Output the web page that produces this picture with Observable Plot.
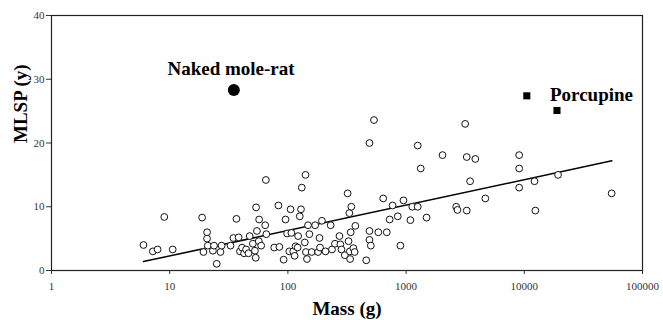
<!DOCTYPE html>
<html>
<head>
<meta charset="utf-8">
<script src="https://cdn.jsdelivr.net/npm/d3@7"></script>
<script src="https://cdn.jsdelivr.net/npm/@observablehq/plot@0.6"></script>
<style>
  html, body { margin: 0; padding: 0; background: #fff; }
</style>
</head>
<body>
<div id="chart"></div>
<script>
// Rodent species: body mass (g) and maximum lifespan (years)
const mass = [6.0, 7.2, 7.9, 9.0, 10.6, 18.8, 19.3, 20.7, 20.7, 21.0, 23.2, 23.7, 25.0, 26.9, 27.5,
  32.7, 34.6, 36.7, 38.3, 39.3, 40.9, 42.6, 44.3, 46.4, 47.5, 50.5, 52.6, 53.4, 53.8, 54.7, 56.7, 57.1,
  59.4, 64.3, 65.1, 65.7, 76.6, 83.2, 84.7, 92, 95.5, 98.5, 102.8, 105.3, 107, 111, 114, 116, 121, 122,
  126, 129, 131, 139, 142, 145, 141, 148, 152, 159, 170, 180, 185, 187, 194, 208, 230, 236, 250, 273,
  278, 284, 303, 320, 326, 331, 334, 336, 340, 344, 358, 367, 372, 460, 490, 490, 503, 490, 535, 582,
  640, 686, 726, 768, 850, 895, 950, 1087, 1128, 1254, 1254, 1330, 1490, 2033, 2654, 2720, 3160, 3260,
  3260, 3480, 3850, 4680, 9050, 9050, 9050, 12200, 12400, 19300, 54800];
const mlsp = [4.0, 3.0, 3.3, 8.4, 3.3, 8.3, 2.9, 6.0, 5.0, 3.9, 3.1, 3.9, 1.05, 2.9, 3.9,
  3.9, 5.1, 8.1, 5.2, 3.0, 3.6, 2.7, 3.3, 2.7, 5.4, 4.2, 3.1, 2.0, 9.9, 6.2, 4.6, 8.0,
  3.9, 7.1, 14.2, 5.7, 3.6, 10.2, 3.7, 1.7, 8.0, 5.8, 3.0, 9.6, 5.9, 3.0, 2.3, 3.8, 3.6, 5.4,
  8.5, 9.6, 13.0, 4.4, 2.9, 1.8, 15.0, 7.1, 5.7, 2.9, 7.1, 2.9, 5.1, 3.6, 7.8, 3.0, 7.1, 3.3, 4.2, 5.4,
  4.1, 3.3, 2.4, 12.1, 4.6, 9.0, 3.0, 1.8, 6.0, 10.0, 3.5, 2.9, 7.0, 1.6, 6.2, 4.8, 3.9, 20.0, 23.6, 6.0,
  11.3, 6.0, 8.0, 10.2, 8.5, 3.9, 11.0, 7.9, 10.0, 10.0, 19.6, 16.0, 8.3, 18.1, 10.0, 9.5, 23.0, 17.8,
  9.4, 14.0, 17.5, 11.3, 18.1, 16.0, 13.0, 14.0, 9.4, 15.0, 12.1];

// Highlighted species
const moleRatMass = [34.9];
const moleRatMlsp = [28.3];
const porcupineMass = [10500, 18900];
const porcupineMlsp = [27.4, 25.1];

// Regression line end points
const trendMass = [6, 55000];
const trendMlsp = [1.4, 17.2];

// Annotation labels
const labelText = ["Naked mole-rat", "Porcupine"];
const labelMass = [33, 37000];
const labelMlsp = [31.6, 27.5];

const xTicks = [1, 10, 100, 1000, 10000, 100000];
const yTicks = [0, 10, 20, 30, 40];

const points = mass.map((m, i) => ({m, y: mlsp[i]}));
const moleRat = moleRatMass.map((m, i) => ({m, y: moleRatMlsp[i]}));
const porcupine = porcupineMass.map((m, i) => ({m, y: porcupineMlsp[i]}));
const trend = trendMass.map((m, i) => ({m, y: trendMlsp[i]}));
const labels = labelText.map((t, i) => ({t, m: labelMass[i], y: labelMlsp[i]}));

const chart = Plot.plot({
  width: 663,
  height: 320,
  marginLeft: 51,
  marginRight: 21,
  marginTop: 15,
  marginBottom: 50,
  style: {fontFamily: "'Liberation Serif', 'Times New Roman', serif", background: "#fff"},
  x: {type: "log", domain: [1, 100000]},
  y: {domain: [0, 40]},
  marks: [
    Plot.axisX({ticks: xTicks, tickFormat: d => String(d), tickSize: 4, tickPadding: 8,
      fontSize: 11, color: "#333", label: null}),
    Plot.axisY({ticks: yTicks, tickSize: 5, tickPadding: 2, fontSize: 11, color: "#333", label: null}),
    Plot.frame({stroke: "#222", strokeWidth: 1.2}),
    Plot.line(trend, {x: "m", y: "y", stroke: "#000", strokeWidth: 1.5}),
    Plot.dot(points, {x: "m", y: "y", r: 3.4, stroke: "#111", strokeWidth: 1, fill: "#fff"}),
    Plot.dot(moleRat, {x: "m", y: "y", r: 6, fill: "#000", stroke: "none"}),
    Plot.dot(porcupine, {x: "m", y: "y", symbol: "square", r: 4, fill: "#000", stroke: "none"}),
    Plot.text(labels, {x: "m", y: "y", text: "t", fontSize: 19, fontWeight: "bold", fill: "#000"}),
    Plot.text(["Mass (g)"], {frameAnchor: "bottom", dy: 44, fontSize: 19, fontWeight: "bold", fill: "#000"}),
    Plot.text(["MLSP (y)"], {frameAnchor: "left", dx: -31, rotate: -90, fontSize: 19, fontWeight: "bold", fill: "#000"})
  ]
});
document.getElementById("chart").append(chart);
</script>
</body>
</html>
